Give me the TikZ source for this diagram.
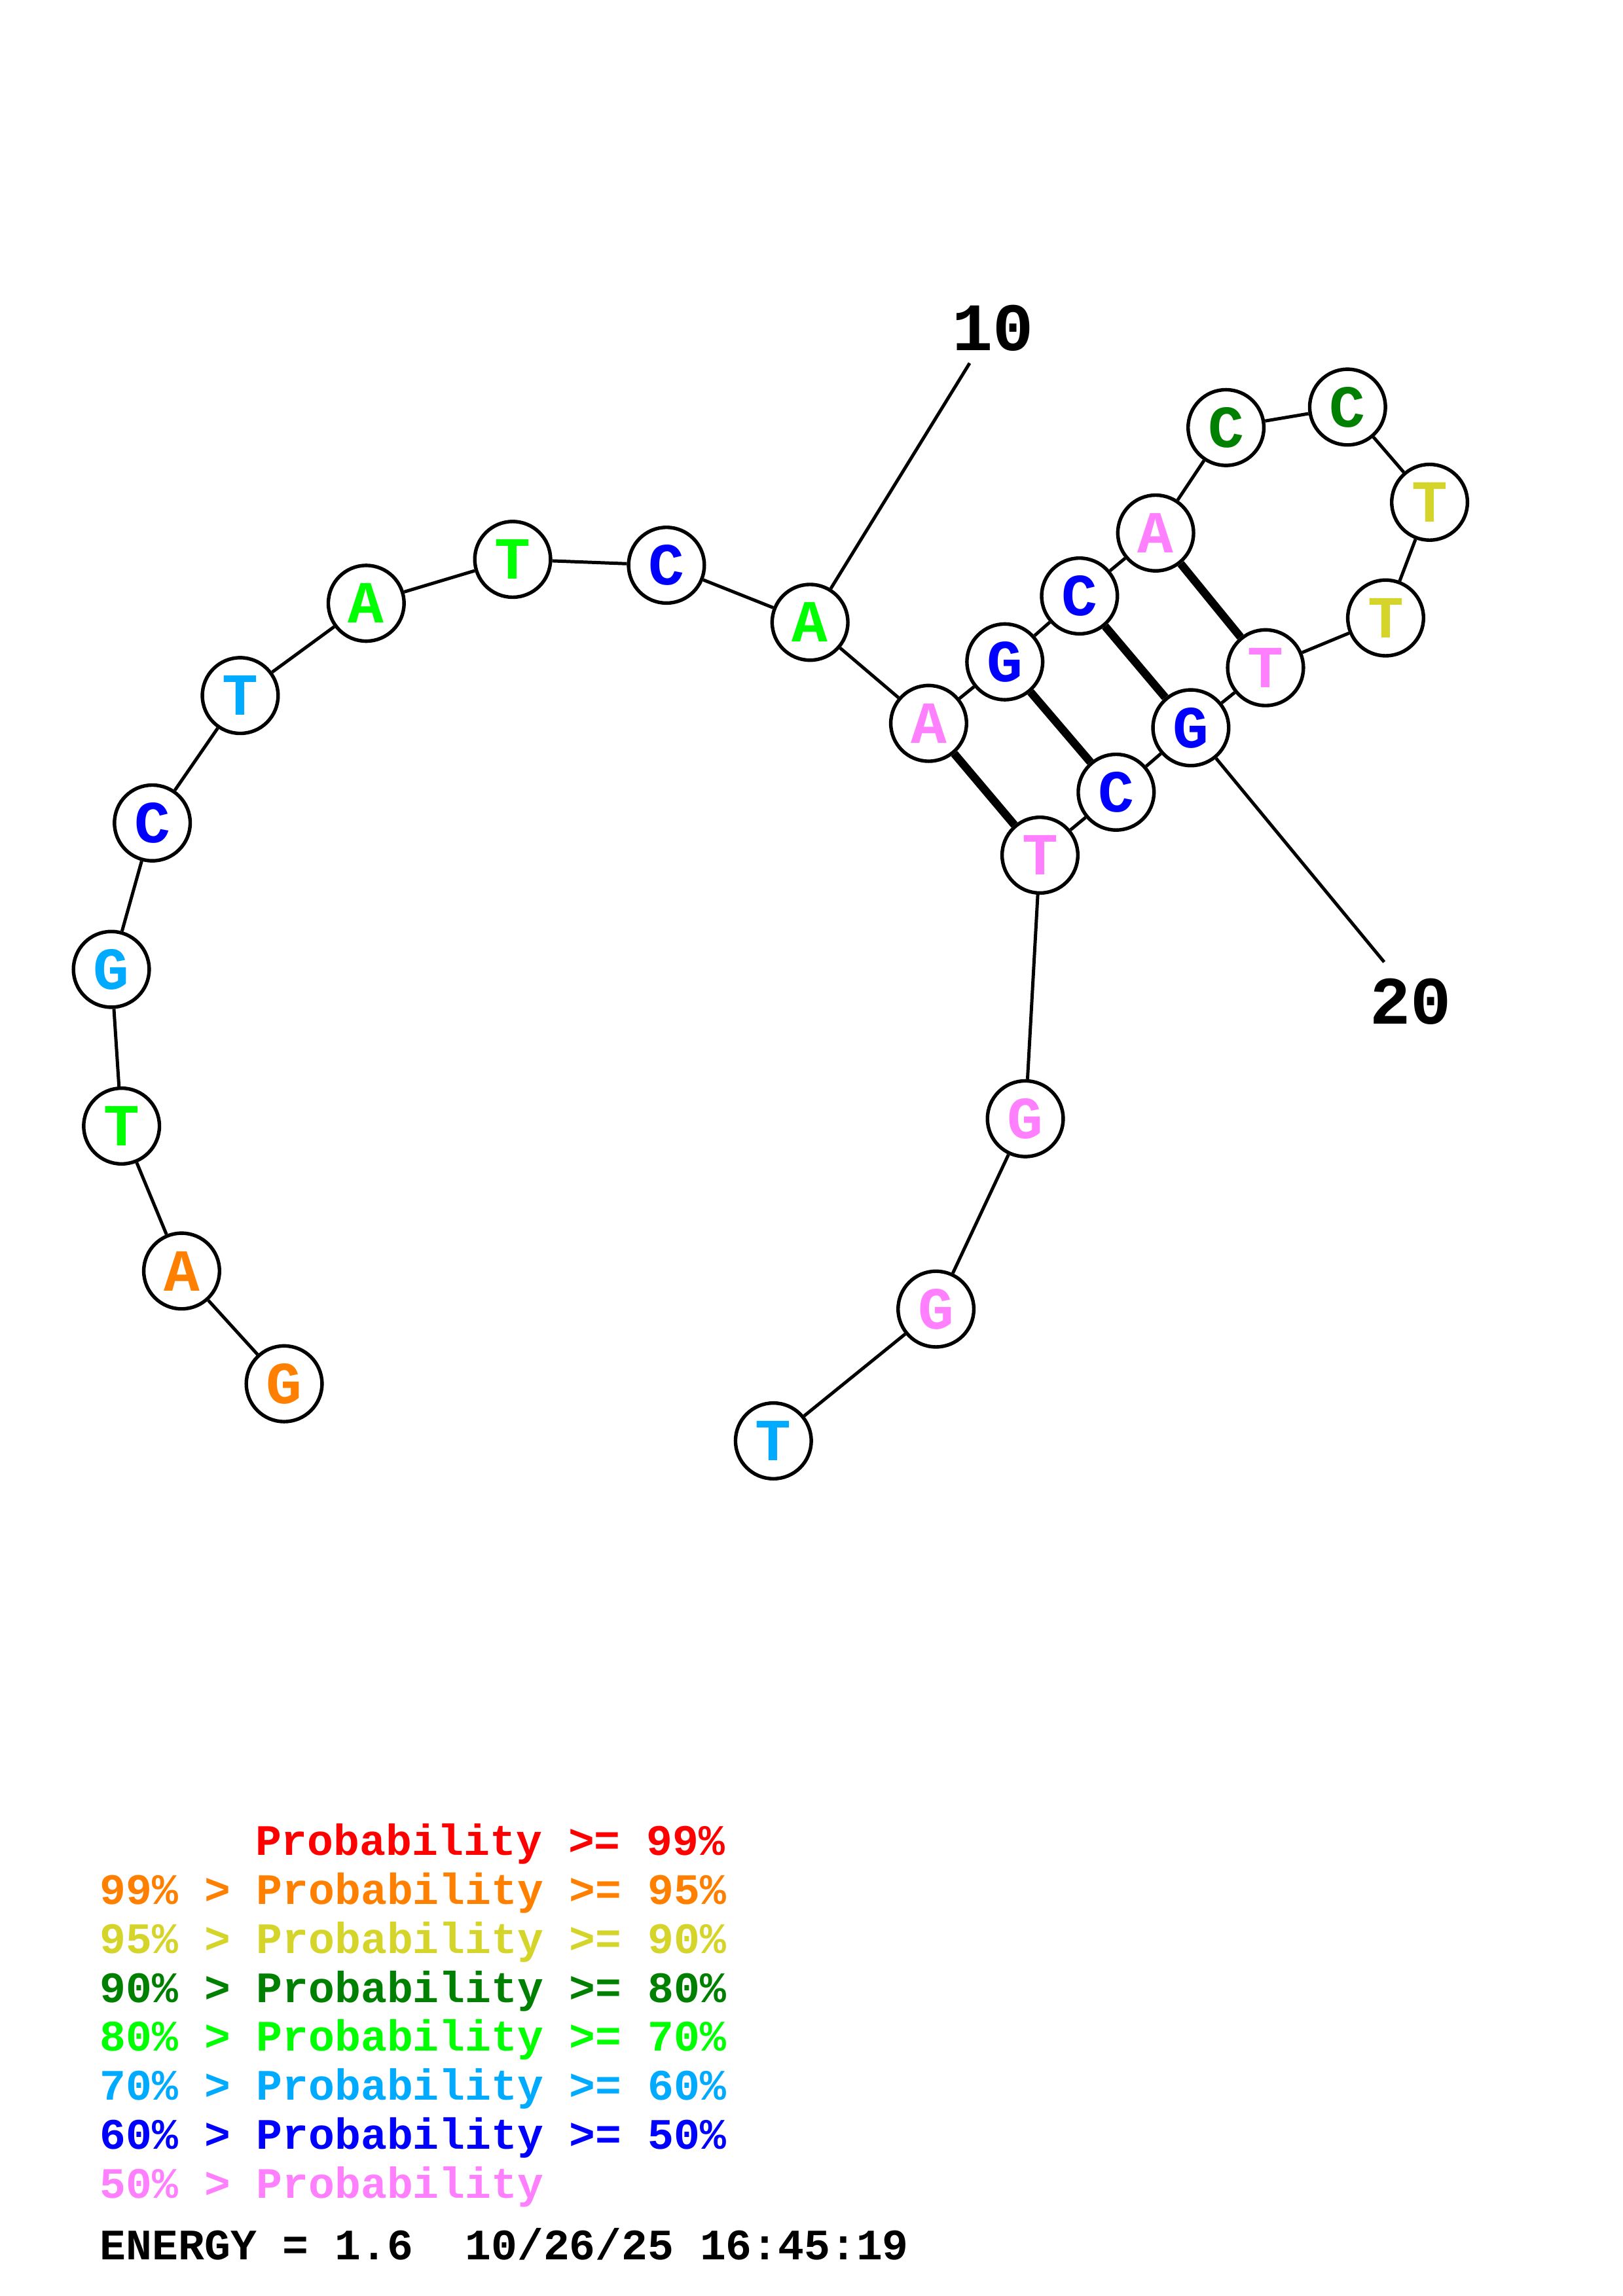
\documentclass[tikz,border=0pt]{standalone}
\usepackage{fontspec}
\setmainfont{Liberation Mono}
\definecolor{pr99}{RGB}{255,0,0}
\definecolor{pr95}{RGB}{255,128,0}
\definecolor{pr90}{RGB}{212,212,42}
\definecolor{pr80}{RGB}{0,128,0}
\definecolor{pr70}{RGB}{0,255,0}
\definecolor{pr60}{RGB}{0,170,255}
\definecolor{pr50}{RGB}{0,0,255}
\definecolor{prlow}{RGB}{255,128,255}
\begin{document}
\begin{tikzpicture}[x=0.018953cm, y=-0.018953cm]
\tikzstyle{base}=[circle, draw, line width=1.3pt, fill=white, minimum size=0.98cm, inner sep=0pt, font=\fontsize{22}{22}\selectfont\bfseries]
\tikzstyle{pair}=[line width=3pt]
\tikzstyle{num}=[font=\fontsize{25}{25}\selectfont\bfseries]
\tikzstyle{legend}=[anchor=base west, inner sep=0pt, font=\fontsize{16}{16}\selectfont\bfseries]

\useasboundingbox (0,0) rectangle (1108,1568);

\node[base, text=pr95] (b1) at (194, 945) {G};
\node[base, text=pr95] (b2) at (124, 868) {A};
\node[base, text=pr70] (b3) at (83, 769) {T};
\node[base, text=pr60] (b4) at (76, 662) {G};
\node[base, text=pr50] (b5) at (104, 562) {C};
\node[base, text=pr60] (b6) at (164, 475) {T};
\node[base, text=pr70] (b7) at (250, 412) {A};
\node[base, text=pr70] (b8) at (350, 382) {T};
\node[base, text=pr50] (b9) at (455, 386) {C};
\node[base, text=pr70] (b10) at (553, 425) {A};
\node[base, text=prlow] (b11) at (634, 494) {A};
\node[base, text=pr50] (b12) at (686, 452) {G};
\node[base, text=pr50] (b13) at (737, 407) {C};
\node[base, text=prlow] (b14) at (789, 364) {A};
\node[base, text=pr80] (b15) at (837, 292) {C};
\node[base, text=pr80] (b16) at (920, 278) {C};
\node[base, text=pr90] (b17) at (976, 343) {T};
\node[base, text=pr90] (b18) at (946, 422) {T};
\node[base, text=prlow] (b19) at (864, 456) {T};
\node[base, text=pr50] (b20) at (813, 497) {G};
\node[base, text=pr50] (b21) at (762, 541) {C};
\node[base, text=prlow] (b22) at (710, 584) {T};
\node[base, text=prlow] (b23) at (700, 764) {G};
\node[base, text=prlow] (b24) at (639, 894) {G};
\node[base, text=pr60] (b25) at (528, 984) {T};

\draw[line width=1.2pt] (b1) -- (b2) -- (b3) -- (b4) -- (b5) -- (b6) -- (b7) -- (b8) -- (b9) -- (b10) -- (b11) -- (b12) -- (b13) -- (b14) -- (b15) -- (b16) -- (b17) -- (b18) -- (b19) -- (b20) -- (b21) -- (b22) -- (b23) -- (b24) -- (b25);

\draw[pair] (b11) -- (b22);
\draw[pair] (b12) -- (b21);
\draw[pair] (b13) -- (b20);
\draw[pair] (b14) -- (b19);

\coordinate (t10) at (662, 248);
\node[num] (l10) at (678, 224) {10};
\draw[line width=1.2pt] (b10) -- (t10);
\coordinate (t20) at (945, 657);
\node[num] (l20) at (963, 684) {20};
\draw[line width=1.2pt] (b20) -- (t20);

\node[legend, text=pr99] (k99) at (174, 1267) {Probability >= 99\%};
\node[legend, text=pr95] (k95) at (68, 1300.4) {99\% > Probability >= 95\%};
\node[legend, text=pr90] (k90) at (68, 1333.9) {95\% > Probability >= 90\%};
\node[legend, text=pr80] (k80) at (68, 1367.3) {90\% > Probability >= 80\%};
\node[legend, text=pr70] (k70) at (68, 1400.7) {80\% > Probability >= 70\%};
\node[legend, text=pr60] (k60) at (68, 1434.1) {70\% > Probability >= 60\%};
\node[legend, text=pr50] (k50) at (68, 1467.6) {60\% > Probability >= 50\%};
\node[legend, text=prlow] (klow) at (68, 1501) {50\% > Probability};
\node[legend] (energy) at (68, 1543) {ENERGY = 1.6\ \ 10/26/25 16:45:19};

\end{tikzpicture}
\end{document}
